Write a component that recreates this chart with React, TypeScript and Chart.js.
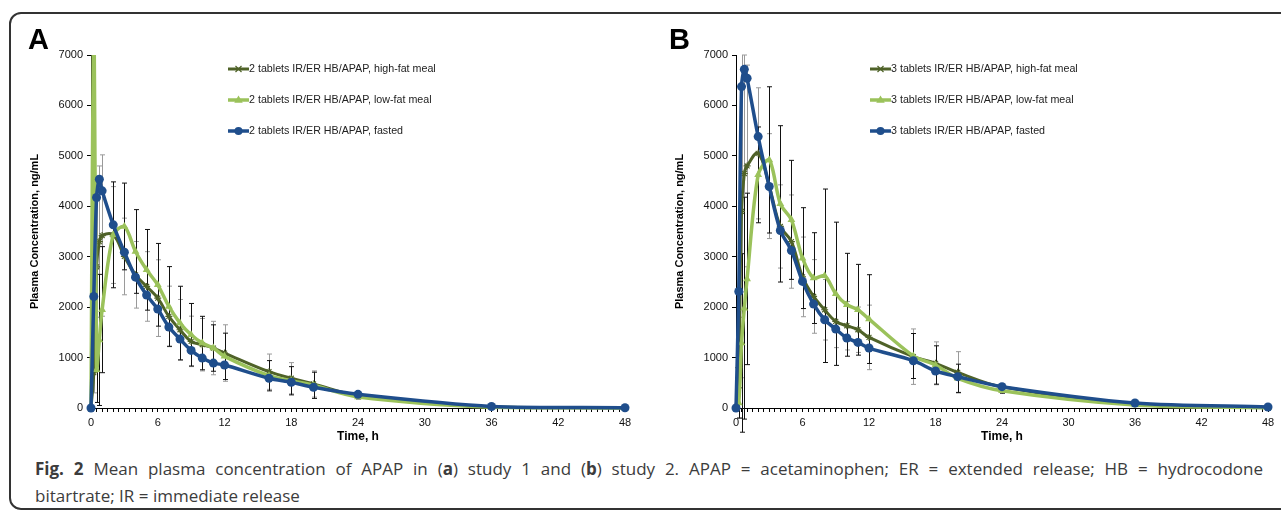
import React, { useEffect, useRef } from 'react';
import { Chart, registerables } from 'chart.js';

Chart.register(...registerables);

// ---------- data ----------
const timesH = [0, 0.25, 0.5, 0.75, 1, 2, 3, 4, 5, 6, 7, 8, 9, 10, 11, 12, 16, 18, 20, 24, 36, 48];
const xTickLabels = [0, 6, 12, 18, 24, 30, 36, 42, 48];
const yTickLabels = [0, 1000, 2000, 3000, 4000, 5000, 6000, 7000];

// Panel A – study 1 (2 tablets)
const aHighFat = [0, 700, 2800, 3300, 3420, 3430, 3005, 2641, 2410, 2179, 1816, 1552, 1321, 1255, 1189, 1090, 720, 590, 476, 250, 20, 0];
const aHighFatSD = [0, 400, 1500, 1500, 1600, 960, 760, 660, 690, 760, 600, 600, 500, 520, 530, 560, 350, 310, 260, 50, 10, 0];
const aLowFat = [0, 8500, 760, 1350, 1950, 3434, 3600, 3104, 2740, 2443, 2014, 1684, 1453, 1288, 1189, 1024, 640, 540, 450, 220, 15, 0];
const aLowFatSD = [0, 0, 650, 1300, 1250, 1050, 860, 830, 800, 820, 790, 730, 620, 530, 460, 460, 300, 280, 260, 40, 10, 0];
const aFasted = [0, 2212, 4174, 4537, 4306, 3632, 3090, 2595, 2239, 1961, 1605, 1367, 1142, 990, 891, 852, 589, 510, 410, 271, 30, 5];

// Panel B – study 2 (3 tablets)
const bHighFat = [0, 800, 3900, 4650, 4800, 5050, 4400, 3600, 3300, 2600, 2212, 1948, 1717, 1631, 1552, 1400, 1018, 886, 707, 420, 80, 10];
const bHighFatSD = [0, 1000, 3300, 2350, 2000, 1300, 1040, 825, 925, 790, 730, 600, 520, 480, 450, 640, 550, 425, 410, 60, 20, 0];
const bLowFat = [0, 100, 1290, 1980, 2560, 4623, 4920, 4048, 3731, 2972, 2576, 2622, 2265, 2047, 1948, 1763, 1031, 853, 589, 343, 60, 5];
const bLowFatSD = [0, 300, 1770, 2200, 1700, 950, 1450, 1550, 1180, 1000, 900, 1720, 1420, 1020, 900, 880, 446, 380, 280, 50, 15, 0];
const bFasted = [0, 2311, 6373, 6716, 6538, 5382, 4392, 3520, 3124, 2510, 2060, 1750, 1565, 1387, 1301, 1189, 938, 734, 621, 423, 100, 20];

const labelsA = ['2 tablets IR/ER HB/APAP, high-fat meal', '2 tablets IR/ER HB/APAP, low-fat meal', '2 tablets IR/ER HB/APAP, fasted'];
const labelsB = ['3 tablets IR/ER HB/APAP, high-fat meal', '3 tablets IR/ER HB/APAP, low-fat meal', '3 tablets IR/ER HB/APAP, fasted'];

// ---------- styles ----------
const DARK_GREEN = '#4f6228';
const LIGHT_GREEN = '#9bc25b';
const BLUE = '#1f4e8c';
const FONT = '"Liberation Sans", Arial, sans-serif';

type Panel = {
  labels: string[];
  highFat: number[]; highFatSD: number[];
  lowFat: number[]; lowFatSD: number[];
  fasted: number[];
  rightPad: number;
  legendX: number;
};

const panelA: Panel = { labels: labelsA, highFat: aHighFat, highFatSD: aHighFatSD, lowFat: aLowFat, lowFatSD: aLowFatSD, fasted: aFasted, rightPad: 15, legendX: 228 };
const panelB: Panel = { labels: labelsB, highFat: bHighFat, highFatSD: bHighFatSD, lowFat: bLowFat, lowFatSD: bLowFatSD, fasted: bFasted, rightPad: 13, legendX: 225 };

function drawMarker(ctx: CanvasRenderingContext2D, style: string, x: number, y: number, r: number, color: string) {
  ctx.save();
  ctx.fillStyle = color;
  ctx.strokeStyle = color;
  if (style === 'circle') {
    ctx.beginPath();
    ctx.arc(x, y, r, 0, Math.PI * 2);
    ctx.fill();
  } else if (style === 'triangle') {
    ctx.beginPath();
    ctx.moveTo(x, y - r);
    ctx.lineTo(x + r * 0.95, y + r * 0.6);
    ctx.lineTo(x - r * 0.95, y + r * 0.6);
    ctx.closePath();
    ctx.fill();
  } else {
    ctx.lineWidth = 1.2;
    ctx.beginPath();
    ctx.moveTo(x - r, y - r); ctx.lineTo(x + r, y + r);
    ctx.moveTo(x - r, y + r); ctx.lineTo(x + r, y - r);
    ctx.moveTo(x - r, y); ctx.lineTo(x + r, y);
    ctx.stroke();
  }
  ctx.restore();
}

function makeConfig(p: Panel): any {
  const pts = (arr: number[]) => timesH.map((t, i) => ({ x: t, y: arr[i] }));
  const clip = { left: 8, right: 8, top: 0, bottom: 8 };

  const errorSets = [
    { means: p.highFat, sds: p.highFatSD, color: '#9a9a9a' },
    { means: p.lowFat, sds: p.lowFatSD, color: '#111111' },
  ];

  const errorBarPlugin = {
    id: 'errbars',
    beforeDatasetsDraw(chart: any) {
      const { ctx, chartArea, scales } = chart;
      const xs = scales.x, ys = scales.y;
      for (const set of errorSets) {
        ctx.save();
        ctx.strokeStyle = set.color;
        ctx.lineWidth = 1;
        timesH.forEach((t, i) => {
          const sd = set.sds[i];
          if (!sd) return;
          const px = Math.round(xs.getPixelForValue(t)) + 0.5;
          const yTopRaw = ys.getPixelForValue(set.means[i] + sd);
          const yBot = ys.getPixelForValue(set.means[i] - sd);
          const yTop = Math.max(yTopRaw, chartArea.top);
          ctx.beginPath();
          ctx.moveTo(px, yTop);
          ctx.lineTo(px, yBot);
          if (yTopRaw >= chartArea.top) {
            ctx.moveTo(px - 2.5, yTop);
            ctx.lineTo(px + 2.5, yTop);
          }
          ctx.moveTo(px - 2.5, yBot);
          ctx.lineTo(px + 2.5, yBot);
          ctx.stroke();
        });
        ctx.restore();
      }
    },
  };

  const legendItems = [
    { label: p.labels[0], color: DARK_GREEN, style: 'star', lw: 3, r: 3 },
    { label: p.labels[1], color: LIGHT_GREEN, style: 'triangle', lw: 3.5, r: 4.5 },
    { label: p.labels[2], color: BLUE, style: 'circle', lw: 3.5, r: 4 },
  ];
  const legendRows = [69, 100, 131];

  const legendPlugin = {
    id: 'customLegend',
    afterDraw(chart: any) {
      const { ctx } = chart;
      legendItems.forEach((it, i) => {
        const y = legendRows[i];
        const x0 = p.legendX;
        ctx.save();
        ctx.strokeStyle = it.color;
        ctx.lineWidth = it.lw;
        ctx.beginPath();
        ctx.moveTo(x0, y);
        ctx.lineTo(x0 + 21, y);
        ctx.stroke();
        ctx.restore();
        drawMarker(ctx, it.style, x0 + 10.5, y, it.r, it.color);
        ctx.save();
        ctx.fillStyle = '#222';
        ctx.font = `10.7px ${FONT}`;
        ctx.textBaseline = 'middle';
        ctx.fillText(it.label, x0 + 21, y + 0.5);
        ctx.restore();
      });
    },
  };

  return {
    type: 'line',
    data: {
      datasets: [
        {
          label: p.labels[2], data: pts(p.fasted), borderColor: BLUE, backgroundColor: BLUE,
          borderWidth: 3.5, pointStyle: 'circle', pointRadius: 4.5, pointBorderWidth: 0,
          tension: 0.3, order: 0, clip,
        },
        {
          label: p.labels[1], data: pts(p.lowFat), borderColor: LIGHT_GREEN, backgroundColor: LIGHT_GREEN,
          borderWidth: 3.5, pointStyle: 'triangle', pointRadius: 4.5, pointBorderWidth: 0,
          tension: 0.3, order: 1, clip,
        },
        {
          label: p.labels[0], data: pts(p.highFat), borderColor: DARK_GREEN, backgroundColor: DARK_GREEN,
          borderWidth: 3, pointStyle: 'star', pointRadius: 3.5, pointBorderWidth: 1.2,
          tension: 0.4, order: 2, clip,
        },
      ],
    },
    options: {
      animation: false,
      responsive: false,
      devicePixelRatio: 1,
      layout: { padding: { left: 0, right: p.rightPad, top: 55, bottom: 0 } },
      plugins: { legend: { display: false }, tooltip: { enabled: false } },
      scales: {
        x: {
          type: 'linear', min: 0, max: 48,
          afterFit: (s: any) => { s.height = 42; },
          border: { display: true, color: '#000', width: 1 },
          grid: { drawOnChartArea: false, drawTicks: true, tickLength: 4, color: '#000' },
          ticks: {
            stepSize: 0.5, autoSkip: false, maxRotation: 0, maxTicksLimit: 500, padding: 4,
            color: '#111', font: { family: FONT, size: 11 },
            callback: (v: number) => (xTickLabels.includes(v) ? String(v) : ''),
          },
          title: {
            display: true, text: 'Time, h', color: '#000',
            font: { family: FONT, size: 12, weight: 'bold' }, padding: { top: 0, bottom: 6 },
          },
        },
        y: {
          type: 'linear', min: 0, max: 7000,
          afterFit: (s: any) => { s.width = 91; },
          border: { display: true, color: '#000', width: 1 },
          grid: { drawOnChartArea: false, drawTicks: true, tickLength: 4, color: '#000' },
          ticks: {
            stepSize: 1000, padding: 4, color: '#111', font: { family: FONT, size: 11 },
            callback: (v: number) => (yTickLabels.includes(v) ? String(v) : ''),
          },
          title: {
            display: true, text: 'Plasma Concentration, ng/mL', color: '#000',
            font: { family: FONT, size: 11, weight: 'bold' }, padding: { top: 28, bottom: 0 },
          },
        },
      },
    },
    plugins: [errorBarPlugin, legendPlugin],
  };
}

export default function App() {
  const refA = useRef<HTMLCanvasElement>(null);
  const refB = useRef<HTMLCanvasElement>(null);

  useEffect(() => {
    const a = new Chart(refA.current!, makeConfig(panelA));
    const b = new Chart(refB.current!, makeConfig(panelB));
    return () => { a.destroy(); b.destroy(); };
  }, []);

  const letter: React.CSSProperties = {
    position: 'absolute', top: 22, font: `bold 29px ${FONT}`, color: '#000', lineHeight: '34px',
  };

  return (
    <div style={{ position: 'fixed', left: 0, top: 0, width: 1281, height: 514, overflow: 'hidden', background: '#fff' }}>
      <div style={{
        position: 'absolute', left: 9, top: 12, width: 1300, height: 498,
        border: '2px solid #333', borderRadius: 12, boxSizing: 'border-box',
      }} />
      <canvas ref={refA} width={640} height={450} style={{ position: 'absolute', left: 0, top: 0, display: 'block' }} />
      <canvas ref={refB} width={636} height={450} style={{ position: 'absolute', left: 645, top: 0, display: 'block' }} />
      <div style={{ ...letter, left: 28 }}>A</div>
      <div style={{ ...letter, left: 669 }}>B</div>
      <div style={{
        position: 'absolute', left: 35, top: 456, width: 1228,
        font: `17px "Open Sans", sans-serif`, color: '#3c3c3c', lineHeight: '26.5px',
      }}>
        <div style={{ textAlign: 'justify', textAlignLast: 'justify' as any, whiteSpace: 'nowrap' === 'x' ? 'nowrap' : 'normal' }}>
          <b>Fig. 2</b> Mean plasma concentration of APAP in (<b>a</b>) study 1 and (<b>b</b>) study 2. APAP = acetaminophen; ER = extended release; HB = hydrocodone
        </div>
        <div>bitartrate; IR = immediate release</div>
      </div>
    </div>
  );
}
